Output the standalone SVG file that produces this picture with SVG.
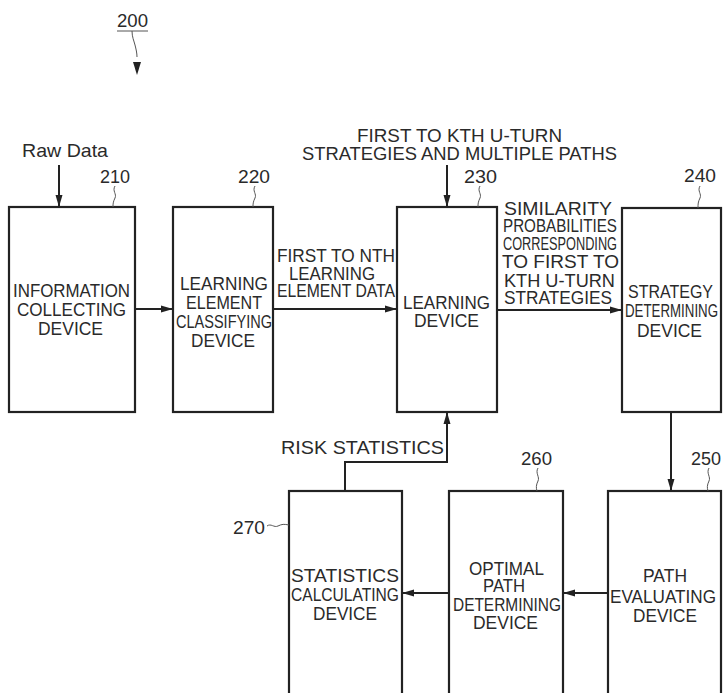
<svg xmlns="http://www.w3.org/2000/svg" width="723" height="693" viewBox="0 0 723 693">
<style>
.box{fill:#fff;stroke:#222;stroke-width:2.2}
.ln{fill:none;stroke:#222;stroke-width:2}
.sq{fill:none;stroke:#555;stroke-width:1}
text{font-family:"Liberation Sans",Arial,sans-serif;font-size:19px;fill:#2a2a2a}
.num{font-size:19px}
</style>
<defs>
<marker id="ah" viewBox="0 0 12 8" refX="12" refY="4" markerWidth="12" markerHeight="8" markerUnits="userSpaceOnUse" orient="auto">
<path d="M0,0.5 L12,4 L0,7.5 Z" fill="#222"/>
</marker>
</defs>

<g id="ref200">
<text class="num" x="117" y="27" textLength="31" lengthAdjust="spacingAndGlyphs">200</text>
<line x1="117" y1="31" x2="148" y2="31" stroke="#555" stroke-width="1"/>
<path class="sq" d="M132,31 c0,6 2,10 3,14 s2,8 2,12" />
<path d="M133,62 L141,62 L137,75 Z" fill="#222"/>
</g>

<g id="node210">
<rect class="box" x="9" y="207" width="126" height="205"/>
<text x="13" y="297" textLength="117" lengthAdjust="spacingAndGlyphs">INFORMATION</text>
<text x="17" y="316" textLength="109" lengthAdjust="spacingAndGlyphs">COLLECTING</text>
<text x="38" y="335" textLength="65" lengthAdjust="spacingAndGlyphs">DEVICE</text>
<text class="num" x="100" y="183" textLength="30" lengthAdjust="spacingAndGlyphs">210</text>
<path class="sq" d="M115,186 c-3,5 2,8 0,12 s-2,6 -2,9"/>
</g>

<g id="node220">
<rect class="box" x="173" y="207" width="100" height="205"/>
<text x="180" y="290" textLength="88" lengthAdjust="spacingAndGlyphs">LEARNING</text>
<text x="186" y="309" textLength="76" lengthAdjust="spacingAndGlyphs">ELEMENT</text>
<text x="176" y="328" textLength="96" lengthAdjust="spacingAndGlyphs">CLASSIFYING</text>
<text x="191" y="347" textLength="64" lengthAdjust="spacingAndGlyphs">DEVICE</text>
<text class="num" x="238" y="183" textLength="32" lengthAdjust="spacingAndGlyphs">220</text>
<path class="sq" d="M255,186 c-3,5 2,8 0,12 s-2,6 -2,9"/>
</g>

<g id="node230">
<rect class="box" x="397" y="207" width="100" height="205"/>
<text x="403" y="309" textLength="87" lengthAdjust="spacingAndGlyphs">LEARNING</text>
<text x="414" y="327" textLength="65" lengthAdjust="spacingAndGlyphs">DEVICE</text>
<text class="num" x="464" y="183" textLength="33" lengthAdjust="spacingAndGlyphs">230</text>
<path class="sq" d="M480,186 c-3,5 2,8 0,12 s-2,6 -2,9"/>
</g>

<g id="node240">
<rect class="box" x="622" y="208" width="99" height="204"/>
<text x="628" y="298" textLength="85" lengthAdjust="spacingAndGlyphs">STRATEGY</text>
<text x="625" y="317" textLength="93" lengthAdjust="spacingAndGlyphs">DETERMINING</text>
<text x="637" y="337" textLength="65" lengthAdjust="spacingAndGlyphs">DEVICE</text>
<text class="num" x="684" y="182" textLength="32" lengthAdjust="spacingAndGlyphs">240</text>
<path class="sq" d="M700,186 c-3,5 2,8 0,12 s-2,6 -2,10"/>
</g>

<g id="node250">
<rect class="box" x="608" y="491" width="113" height="215"/>
<text x="643" y="582" textLength="44" lengthAdjust="spacingAndGlyphs">PATH</text>
<text x="610" y="603" textLength="106" lengthAdjust="spacingAndGlyphs">EVALUATING</text>
<text x="633" y="622" textLength="64" lengthAdjust="spacingAndGlyphs">DEVICE</text>
<text class="num" x="691" y="465" textLength="30" lengthAdjust="spacingAndGlyphs">250</text>
<path class="sq" d="M709,468 c-3,5 2,9 0,13 s-2,7 -1,10"/>
</g>

<g id="node260">
<rect class="box" x="449" y="491" width="114" height="215"/>
<text x="469" y="575" textLength="75" lengthAdjust="spacingAndGlyphs">OPTIMAL</text>
<text x="483" y="592" textLength="42" lengthAdjust="spacingAndGlyphs">PATH</text>
<text x="453" y="611" textLength="108" lengthAdjust="spacingAndGlyphs">DETERMINING</text>
<text x="473" y="629" textLength="65" lengthAdjust="spacingAndGlyphs">DEVICE</text>
<text class="num" x="521" y="465" textLength="31" lengthAdjust="spacingAndGlyphs">260</text>
<path class="sq" d="M538,468 c-3,5 2,9 0,13 s-2,7 -1,10"/>
</g>

<g id="node270">
<rect class="box" x="289" y="491" width="113" height="215"/>
<text x="291" y="582" textLength="108" lengthAdjust="spacingAndGlyphs">STATISTICS</text>
<text x="291" y="601" textLength="108" lengthAdjust="spacingAndGlyphs">CALCULATING</text>
<text x="313" y="620" textLength="64" lengthAdjust="spacingAndGlyphs">DEVICE</text>
<text class="num" x="233" y="534" textLength="32" lengthAdjust="spacingAndGlyphs">270</text>
<path class="sq" d="M267,526 c4,-3 7,2 11,0 s6,-2 11,-1"/>
</g>

<g id="connectors">
<line class="ln" x1="59" y1="165" x2="59" y2="207" marker-end="url(#ah)"/>
<text x="22" y="157" textLength="86" lengthAdjust="spacingAndGlyphs">Raw Data</text>

<line class="ln" x1="135" y1="309" x2="173" y2="309" marker-end="url(#ah)"/>

<line class="ln" x1="273" y1="309" x2="397" y2="309" marker-end="url(#ah)"/>
<text x="277" y="262" textLength="118" lengthAdjust="spacingAndGlyphs">FIRST TO NTH</text>
<text x="289" y="280" textLength="86" lengthAdjust="spacingAndGlyphs">LEARNING</text>
<text x="277" y="297" textLength="118" lengthAdjust="spacingAndGlyphs">ELEMENT DATA</text>

<line class="ln" x1="447" y1="165" x2="447" y2="207" marker-end="url(#ah)"/>
<text x="357" y="142" textLength="205" lengthAdjust="spacingAndGlyphs">FIRST TO KTH U-TURN</text>
<text x="302" y="160" textLength="315" lengthAdjust="spacingAndGlyphs">STRATEGIES AND MULTIPLE PATHS</text>

<line class="ln" x1="497" y1="310" x2="622" y2="310" marker-end="url(#ah)"/>
<text x="504" y="215" textLength="108" lengthAdjust="spacingAndGlyphs">SIMILARITY</text>
<text x="503" y="232" textLength="114" lengthAdjust="spacingAndGlyphs">PROBABILITIES</text>
<text x="503" y="250" textLength="114" lengthAdjust="spacingAndGlyphs">CORRESPONDING</text>
<text x="502" y="268" textLength="117" lengthAdjust="spacingAndGlyphs">TO FIRST TO</text>
<text x="504" y="287" textLength="111" lengthAdjust="spacingAndGlyphs">KTH U-TURN</text>
<text x="504" y="304" textLength="108" lengthAdjust="spacingAndGlyphs">STRATEGIES</text>

<line class="ln" x1="671" y1="412" x2="671" y2="491" marker-end="url(#ah)"/>
<line class="ln" x1="608" y1="593" x2="563" y2="593" marker-end="url(#ah)"/>
<line class="ln" x1="449" y1="593" x2="402" y2="593" marker-end="url(#ah)"/>

<polyline class="ln" points="345,491 345,462 447,462 447,412" marker-end="url(#ah)"/>
<text x="281" y="454" textLength="163" lengthAdjust="spacingAndGlyphs">RISK STATISTICS</text>
</g>
</svg>
